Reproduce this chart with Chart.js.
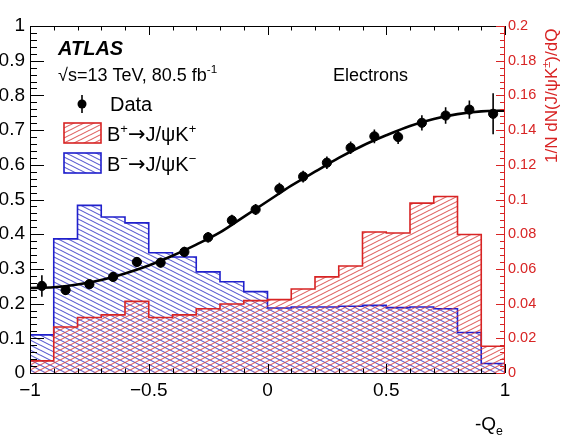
<!DOCTYPE html>
<html>
<head>
<meta charset="utf-8">
<script src="https://cdn.jsdelivr.net/npm/chart.js@4.4.1/dist/chart.umd.min.js"></script>
<style>
  html, body { margin: 0; padding: 0; background: #fff; overflow: hidden; }
</style>
</head>
<body>
<canvas id="chart" width="561" height="438"></canvas>
<script>
// bin centres of the -Q_e histogram (width 0.1)
const binCenters = [-0.95, -0.85, -0.75, -0.65, -0.55, -0.45, -0.35, -0.25, -0.15, -0.05,
                    0.05, 0.15, 0.25, 0.35, 0.45, 0.55, 0.65, 0.75, 0.85, 0.95];
const binHalf = 0.05;

// data points (left axis) and their errors
const dataValues = [0.251, 0.239, 0.256, 0.277, 0.320, 0.318, 0.349, 0.391, 0.440, 0.471,
                    0.531, 0.566, 0.606, 0.649, 0.682, 0.680, 0.721, 0.742, 0.759, 0.747];
const dataErrors = [0.031, 0.014, 0.013, 0.013, 0.014, 0.014, 0.015, 0.015, 0.016, 0.016,
                    0.017, 0.017, 0.018, 0.018, 0.020, 0.020, 0.022, 0.024, 0.026, 0.059];

// normalised templates (right axis)
const bPlusValues  = [0.0070, 0.0265, 0.0320, 0.0335, 0.0413, 0.0320, 0.0335, 0.0370, 0.0398, 0.0417,
                      0.0423, 0.0484, 0.0554, 0.0617, 0.0813, 0.0807, 0.0979, 0.1017, 0.0798, 0.0154];
const bMinusValues = [0.0220, 0.0773, 0.0966, 0.0899, 0.0865, 0.0693, 0.0669, 0.0583, 0.0526, 0.0469,
                      0.0375, 0.0380, 0.0380, 0.0385, 0.0390, 0.0377, 0.0380, 0.0370, 0.0233, 0.0055];

// fitted curve, sampled along -Q_e
const fitX = [-1, -0.9, -0.8, -0.7, -0.6, -0.5, -0.4, -0.3, -0.2, -0.1, 0,
              0.1, 0.2, 0.3, 0.4, 0.5, 0.6, 0.7, 0.8, 0.9, 1];
const fitY = [0.245, 0.247, 0.255, 0.268, 0.287, 0.310, 0.338, 0.370, 0.405, 0.450, 0.495,
              0.540, 0.580, 0.620, 0.655, 0.685, 0.712, 0.732, 0.746, 0.754, 0.756];

const xTicks = [-1, -0.5, 0, 0.5, 1];
const yTicks = [0, 0.1, 0.2, 0.3, 0.4, 0.5, 0.6, 0.7, 0.8, 0.9, 1];
const y2Ticks = [0, 0.02, 0.04, 0.06, 0.08, 0.1, 0.12, 0.14, 0.16, 0.18, 0.2];

const FONT = '"Liberation Sans", Arial, Helvetica, sans-serif';
const ARROW_FONT = '"DejaVu Sans", sans-serif';
const RED = '#d82424';
const BLUE = '#2020cc';

function hatch(color, rising) {
  const c = document.createElement('canvas');
  c.width = 10; c.height = 5;
  const g = c.getContext('2d');
  g.strokeStyle = color;
  g.lineWidth = 1.1;
  g.beginPath();
  for (let k = -1; k <= 1; k++) {
    const o = k * 5;
    if (rising) { g.moveTo(-10, 10 + o); g.lineTo(20, -5 + o); }
    else { g.moveTo(-10, -5 + o); g.lineTo(20, 10 + o); }
  }
  g.stroke();
  return g.createPattern(c, 'repeat');
}

// step outline of a histogram, starting and ending on zero
function histPoints(vals) {
  const pts = [{ x: binCenters[0] - binHalf, y: 0 }];
  vals.forEach((v, i) => pts.push({ x: binCenters[i] - binHalf, y: v }));
  const last = binCenters.length - 1;
  pts.push({ x: binCenters[last] + binHalf, y: vals[last] });
  pts.push({ x: binCenters[last] + binHalf, y: 0 });
  return pts;
}

function fmt(v) {
  const s = String(Number(v.toFixed(3)));
  return s.replace('-', '\u2212');
}

// draws text made of normal / sup / sub / arrow pieces, returns end x
function richText(ctx, parts, x, y, size, style) {
  let cx = x;
  parts.forEach(([t, mode]) => {
    let s = size, dy = 0, fam = FONT;
    if (mode === 'sup') { s = size * 0.65; dy = -size * 0.42; }
    if (mode === 'sub') { s = size * 0.65; dy = size * 0.25; }
    if (mode === 'arrow') { fam = ARROW_FONT; s = size * 1.05; dy = -size * 0.02; }
    ctx.font = (style || '') + ' ' + s + 'px ' + fam;
    ctx.fillText(t, cx, y + dy);
    cx += ctx.measureText(t).width;
  });
  return cx;
}

const atlasDecor = {
  id: 'atlasDecor',
  afterDatasetsDraw(chart) {
    const { ctx, chartArea: a, scales: { x, y, y2 } } = chart;
    ctx.save();

    // vertical error bars on the data points
    ctx.strokeStyle = '#000';
    ctx.lineWidth = 1.6;
    ctx.beginPath();
    dataValues.forEach((v, i) => {
      const px = x.getPixelForValue(binCenters[i]);
      ctx.moveTo(px, y.getPixelForValue(v - dataErrors[i]));
      ctx.lineTo(px, y.getPixelForValue(v + dataErrors[i]));
    });
    ctx.stroke();

    // frame and inward ticks
    ctx.lineWidth = 1;
    ctx.beginPath();
    for (let i = 0; i <= 50; i++) {
      const py = Math.round(y.getPixelForValue(i * 0.02)) + 0.5;
      const len = i % 5 === 0 ? 14 : 7;
      ctx.moveTo(a.left, py); ctx.lineTo(a.left + len, py);
    }
    for (let i = 0; i <= 20; i++) {
      const px = Math.round(x.getPixelForValue(-1 + i * 0.1)) + 0.5;
      const len = i % 5 === 0 ? 9 : 4.5;
      ctx.moveTo(px, a.top); ctx.lineTo(px, a.top + len);
      ctx.moveTo(px, a.bottom); ctx.lineTo(px, a.bottom - len);
    }
    ctx.moveTo(a.right, a.top + 0.5); ctx.lineTo(a.left + 0.5, a.top + 0.5);
    ctx.lineTo(a.left + 0.5, a.bottom + 0.5); ctx.lineTo(a.right, a.bottom + 0.5);
    ctx.stroke();

    ctx.strokeStyle = RED;
    ctx.beginPath();
    for (let i = 0; i <= 50; i++) {
      const py = Math.round(y2.getPixelForValue(i * 0.004)) + 0.5;
      const len = i % 5 === 0 ? 9 : 5;
      ctx.moveTo(a.right, py); ctx.lineTo(a.right - len, py);
    }
    ctx.moveTo(a.right - 0.5, a.top); ctx.lineTo(a.right - 0.5, a.bottom + 1);
    ctx.stroke();
    ctx.restore();
  },
  afterDraw(chart) {
    const { ctx } = chart;
    ctx.save();
    ctx.fillStyle = '#000';
    ctx.textBaseline = 'alphabetic';

    ctx.font = 'italic bold 20px ' + FONT;
    ctx.fillText('ATLAS', 58, 55);
    richText(ctx, [['\u221As=13 TeV, 80.5 fb', ''], ['-1', 'sup']], 58, 81, 18);
    ctx.font = '18px ' + FONT;
    ctx.fillText('Electrons', 333, 81);

    // legend
    ctx.beginPath();
    ctx.arc(82, 104, 4.5, 0, Math.PI * 2);
    ctx.fill();
    ctx.lineWidth = 1.6;
    ctx.beginPath();
    ctx.moveTo(82, 95); ctx.lineTo(82, 113);
    ctx.stroke();
    ctx.font = '20px ' + FONT;
    ctx.fillText('Data', 110, 111);

    [[RED, chart.data.datasets[2].backgroundColor, 123, '+'],
     [BLUE, chart.data.datasets[3].backgroundColor, 153, '\u2212']].forEach(([col, pat, top, sign]) => {
      ctx.fillStyle = pat;
      ctx.fillRect(64, top, 37, 20);
      ctx.strokeStyle = col;
      ctx.lineWidth = 1.6;
      ctx.strokeRect(64, top, 37, 20);
      ctx.fillStyle = '#000';
      richText(ctx, [['B', ''], [sign, 'sup'], ['\u2192', 'arrow'], ['J/\u03C8K', ''], [sign, 'sup']], 107, top + 18, 20);
    });

    // x-axis title
    richText(ctx, [['-Q', ''], ['e', 'sub']], 475, 430, 19);

    // right axis title, reading upwards
    ctx.translate(557, 163);
    ctx.rotate(-Math.PI / 2);
    ctx.fillStyle = RED;
    richText(ctx, [['1/N dN(J/\u03C8K', ''], ['\u00B1', 'sup'], [')/dQ', '']], 0, 0, 17);
    ctx.restore();
  }
};

new Chart(document.getElementById('chart').getContext('2d'), {
  type: 'line',
  data: {
    datasets: [
      {
        type: 'scatter',
        data: binCenters.map((c, i) => ({ x: c, y: dataValues[i] })),
        yAxisID: 'y',
        backgroundColor: '#000',
        borderColor: '#000',
        pointRadius: 4.6,
        showLine: false
      },
      {
        data: fitX.map((c, i) => ({ x: c, y: fitY[i] })),
        yAxisID: 'y',
        borderColor: '#000',
        borderWidth: 2.6,
        pointRadius: 0,
        cubicInterpolationMode: 'monotone',
        fill: false
      },
      {
        data: histPoints(bPlusValues),
        yAxisID: 'y2',
        stepped: true,
        borderColor: RED,
        borderWidth: 1.6,
        backgroundColor: hatch('rgba(218,70,70,0.85)', true),
        fill: 'origin',
        pointRadius: 0
      },
      {
        data: histPoints(bMinusValues),
        yAxisID: 'y2',
        stepped: true,
        borderColor: BLUE,
        borderWidth: 1.6,
        backgroundColor: hatch('rgba(60,60,200,0.85)', false),
        fill: 'origin',
        pointRadius: 0
      }
    ]
  },
  options: {
    responsive: false,
    animation: false,
    layout: { padding: { top: 26, left: 0, right: 0, bottom: 0 } },
    plugins: { legend: { display: false }, tooltip: { enabled: false } },
    scales: {
      x: {
        type: 'linear',
        min: -1, max: 1,
        afterBuildTicks: s => { s.ticks = xTicks.map(v => ({ value: v })); },
        afterFit: s => { s.height = 65; },
        ticks: { color: '#000', padding: 6, font: { family: FONT, size: 19 }, callback: v => fmt(v), maxRotation: 0 },
        grid: { display: false, drawTicks: false },
        border: { display: false }
      },
      y: {
        position: 'left',
        min: 0, max: 1,
        afterBuildTicks: s => { s.ticks = yTicks.map(v => ({ value: v })); },
        afterFit: s => { s.width = 30; },
        ticks: { color: '#000', padding: 5, font: { family: FONT, size: 19 }, callback: v => fmt(v) },
        grid: { display: false, drawTicks: false },
        border: { display: false }
      },
      y2: {
        position: 'right',
        min: 0, max: 0.2,
        afterBuildTicks: s => { s.ticks = y2Ticks.map(v => ({ value: v })); },
        afterFit: s => { s.width = 56; },
        ticks: { color: RED, padding: 3, font: { family: FONT, size: 14.5 }, callback: v => fmt(v) },
        grid: { display: false, drawTicks: false },
        border: { display: false }
      }
    }
  },
  plugins: [atlasDecor]
});
</script>
</body>
</html>
